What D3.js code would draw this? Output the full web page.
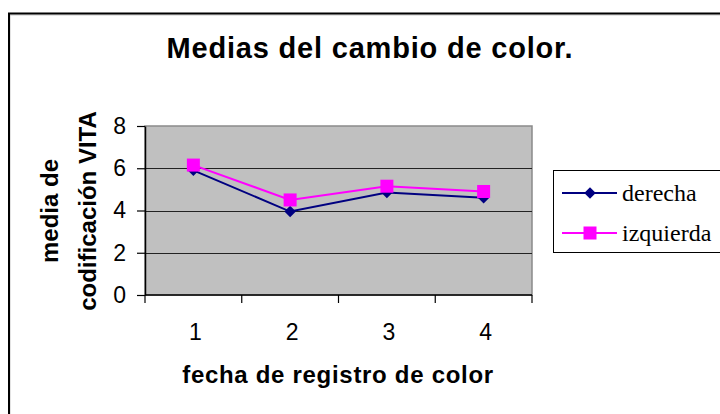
<!DOCTYPE html>
<html>
<head>
<meta charset="utf-8">
<script src="https://cdn.jsdelivr.net/npm/d3@7"></script>
<style>
  html, body { margin: 0; padding: 0; background: #fff; }
  svg { display: block; }
</style>
</head>
<body>
<svg id="chart" width="720" height="414"></svg>
<script>
// Dates on which colour was recorded
const categories = ["1", "2", "3", "4"];
// Mean VITA code per side
const derecha = [5.9, 3.95, 4.85, 4.6];
const izquierda = [6.15, 4.5, 5.15, 4.9];
const yTicks = [0, 2, 4, 6, 8];
const seriesNames = ["derecha", "izquierda"];

const svg = d3.select("#chart");
const sans = "'Liberation Sans', Arial, sans-serif";
const serif = "'Liberation Serif', 'Times New Roman', serif";

// Chart frame
svg.append("rect").attr("x", 10).attr("y", 15).attr("width", 720).attr("height", 420)
  .attr("fill", "none").attr("stroke", "#c8c8c8").attr("stroke-width", 1);
svg.append("rect").attr("x", 9).attr("y", 13.5).attr("width", 720).attr("height", 420)
  .attr("fill", "none").attr("stroke", "#000").attr("stroke-width", 2);

const plot = { left: 145, right: 532, top: 126, bottom: 295 };

const x = d3.scaleBand().domain(categories).range([plot.left, plot.right]);
const y = d3.scaleLinear().domain([0, 8]).range([plot.bottom, plot.top]);

// Plot area
svg.append("rect")
  .attr("x", plot.left).attr("y", plot.top)
  .attr("width", plot.right - plot.left).attr("height", plot.bottom - plot.top)
  .attr("fill", "#c0c0c0").attr("stroke", "#8a8a8a").attr("stroke-width", 1.5);

// Horizontal gridlines
svg.append("g").selectAll("line")
  .data(yTicks.filter(d => d > 0 && d < 8))
  .join("line")
  .attr("x1", plot.left).attr("x2", plot.right)
  .attr("y1", d => Math.round(y(d)) + 0.5).attr("y2", d => Math.round(y(d)) + 0.5)
  .attr("stroke", "#222").attr("stroke-width", 1);

// Y axis
const yAxis = svg.append("g")
  .attr("transform", `translate(${plot.left},0)`)
  .call(d3.axisLeft(y).tickValues(yTicks).tickSize(8).tickPadding(11).tickSizeOuter(0));
yAxis.select(".domain").attr("stroke", "#000").attr("stroke-width", 1.5);
yAxis.selectAll(".tick line").attr("stroke", "#000").attr("stroke-width", 1.2);
yAxis.selectAll(".tick text").attr("font-family", sans).attr("font-size", 23).attr("fill", "#000");

// X axis: ticks sit on the category boundaries, labels at category centres
const xAxisG = svg.append("g").attr("transform", `translate(0,${plot.bottom})`);
xAxisG.append("line").attr("x1", plot.left).attr("x2", plot.right)
  .attr("stroke", "#000").attr("stroke-width", 1.5);
const bounds = categories.map(c => x(c)).concat([x(categories[categories.length - 1]) + x.bandwidth()]);
xAxisG.selectAll("line.tk").data(bounds).join("line").attr("class", "tk")
  .attr("x1", d => d).attr("x2", d => d).attr("y1", 0).attr("y2", 8)
  .attr("stroke", "#000").attr("stroke-width", 1.2);
xAxisG.selectAll("text").data(categories).join("text")
  .attr("x", d => x(d) + x.bandwidth() / 2 + 2)
  .attr("y", 45)
  .attr("text-anchor", "middle")
  .attr("font-family", sans).attr("font-size", 23).attr("fill", "#000")
  .text(d => d);

// Series lines and markers
const line = d3.line()
  .x((d, i) => x(categories[i]) + x.bandwidth() / 2)
  .y(d => y(d));

svg.append("path").datum(derecha)
  .attr("d", line).attr("fill", "none").attr("stroke", "#000080").attr("stroke-width", 2);
svg.append("path").datum(izquierda)
  .attr("d", line).attr("fill", "none").attr("stroke", "#ff00ff").attr("stroke-width", 2);

const diamond = d3.symbol().type(d3.symbolDiamond2).size(84);
svg.append("g").selectAll("path").data(derecha).join("path")
  .attr("transform", (d, i) => `translate(${x(categories[i]) + x.bandwidth() / 2},${y(d)})`)
  .attr("d", diamond).attr("fill", "#000080");

svg.append("g").selectAll("rect").data(izquierda).join("rect")
  .attr("x", (d, i) => x(categories[i]) + x.bandwidth() / 2 - 6.5)
  .attr("y", d => y(d) - 6.5)
  .attr("width", 13).attr("height", 13)
  .attr("fill", "#ff00ff");

// Title
svg.append("text")
  .attr("x", 370).attr("y", 58)
  .attr("text-anchor", "middle")
  .attr("font-family", sans).attr("font-weight", "bold").attr("font-size", 29)
  .attr("letter-spacing", 0.8)
  .text("Medias del cambio de color.");

// Axis titles
svg.append("text")
  .attr("x", 338).attr("y", 383)
  .attr("text-anchor", "middle")
  .attr("font-family", sans).attr("font-weight", "bold").attr("font-size", 24)
  .attr("letter-spacing", 0.7)
  .text("fecha de registro de color");

const yTitle = svg.append("g").attr("transform", "translate(0,211) rotate(-90)");
yTitle.append("text").attr("x", 0).attr("y", 58)
  .attr("text-anchor", "middle")
  .attr("font-family", sans).attr("font-weight", "bold").attr("font-size", 24)
  .text("media de");
yTitle.append("text").attr("x", 0).attr("y", 96)
  .attr("text-anchor", "middle")
  .attr("font-family", sans).attr("font-weight", "bold").attr("font-size", 24)
  .text("codificación VITA");

// Legend
const legend = svg.append("g");
legend.append("rect").attr("x", 553.5).attr("y", 170.5).attr("width", 200).attr("height", 82)
  .attr("fill", "#fff").attr("stroke", "#000").attr("stroke-width", 1);
const legendColors = ["#000080", "#ff00ff"];
seriesNames.forEach((name, i) => {
  const ly = 193 + i * 40;
  legend.append("line").attr("x1", 562).attr("x2", 617).attr("y1", ly).attr("y2", ly)
    .attr("stroke", legendColors[i]).attr("stroke-width", 2);
  if (i === 0) {
    legend.append("path").attr("transform", `translate(590,${ly})`).attr("d", diamond).attr("fill", legendColors[i]);
  } else {
    legend.append("rect").attr("x", 583.5).attr("y", ly - 6.5).attr("width", 13).attr("height", 13)
      .attr("fill", legendColors[i]);
  }
  legend.append("text").attr("x", 622).attr("y", ly + 8)
    .attr("font-family", serif).attr("font-size", 24).attr("fill", "#000")
    .text(name);
});
</script>
</body>
</html>
